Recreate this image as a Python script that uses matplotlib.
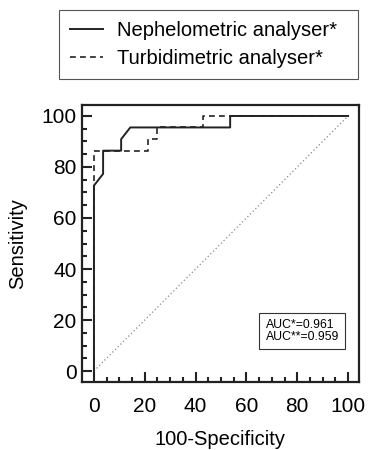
import numpy as np
import matplotlib
matplotlib.use('Agg')
import matplotlib.pyplot as plt
from matplotlib.ticker import MultipleLocator

plt.rcParams['font.family'] = ['Liberation Sans', 'DejaVu Sans']

# ROC curve points (100-Specificity, Sensitivity)
neph_x = [0, 0, 3.6, 3.6, 10.7, 10.7, 14.3, 53.6, 53.6, 100]
neph_y = [0, 72.7, 77.3, 86.4, 86.4, 90.9, 95.5, 95.5, 100, 100]

turb_x = [0, 0, 21.4, 21.4, 25.0, 25.0, 42.9, 42.9, 100]
turb_y = [0, 86.4, 86.4, 90.9, 90.9, 95.5, 95.5, 100, 100]

labels = ['Nephelometric analyser*', 'Turbidimetric analyser*']
auc_text = 'AUC*=0.961\nAUC**=0.959'

fig = plt.figure(figsize=(3.69, 4.5), dpi=100)
ax = fig.add_axes([82/369, 1-382/450, 277/369, 277/450])

ax.plot([0, 100], [0, 100], color='#888888', lw=0.9, ls=(0, (1, 2)))
l1, = ax.plot(neph_x, neph_y, color='#222222', lw=1.4, ls='-')
l2, = ax.plot(turb_x, turb_y, color='#222222', lw=1.2, ls=(0, (3.5, 2.5)))

ax.set_xlim(-4.7, 104.3)
ax.set_ylim(-4.3, 104.3)
ax.xaxis.set_major_locator(MultipleLocator(20))
ax.xaxis.set_minor_locator(MultipleLocator(5))
ax.yaxis.set_major_locator(MultipleLocator(20))
ax.yaxis.set_minor_locator(MultipleLocator(5))
ax.tick_params(which='both', direction='in', top=False, right=False, width=1.5, color='#222222')
ax.tick_params(which='major', length=7, labelsize=15)
ax.tick_params(axis='x', which='major', pad=11)
ax.tick_params(axis='y', which='major', pad=4)
ax.tick_params(which='minor', length=3.5)
for s in ax.spines.values():
    s.set_linewidth(1.6)
    s.set_color('#222222')

ax.set_xlabel('100-Specificity', fontsize=14.5, labelpad=10)
ax.set_ylabel('Sensitivity', fontsize=14.5, labelpad=10)

ax.text(67.5, 15.7, auc_text, fontsize=8.8,
        ha='left', va='center', linespacing=1.0,
        bbox=dict(boxstyle='square,pad=0.5', fc='white', ec='#333333', lw=0.8))

leg = fig.legend([l1, l2], labels, loc='upper left',
                 bbox_to_anchor=(59/369, 1-81/450, 299/369, 71/450),
                 mode='expand', fontsize=14.5, handlelength=1.65,
                 handletextpad=0.7, labelspacing=0.45, borderpad=0.55,
                 borderaxespad=0, fancybox=False, framealpha=1)
leg.get_frame().set_edgecolor('#555555')
leg.get_frame().set_linewidth(0.8)

fig.savefig('out.png', dpi=100)
